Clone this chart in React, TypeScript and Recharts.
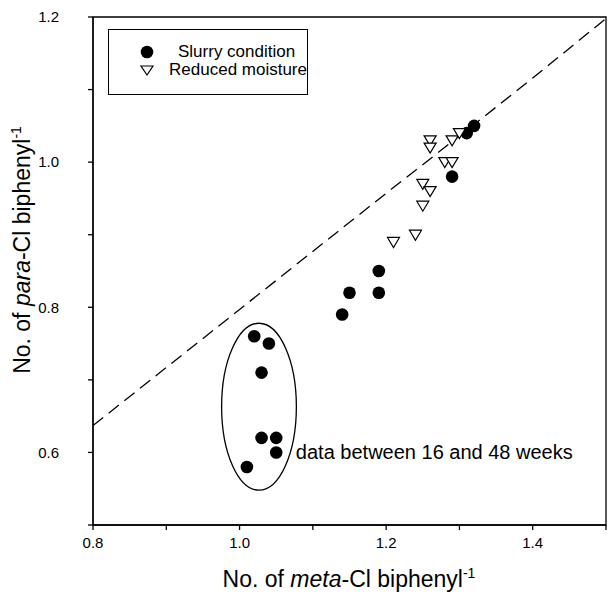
import {
  ComposedChart,
  Scatter,
  Line,
  XAxis,
  YAxis,
  Legend,
  ReferenceArea,
  ReferenceDot,
} from "recharts";

// Slurry condition (filled circles)
const slurryMeta = [1.32, 1.31, 1.29, 1.19, 1.19, 1.15, 1.14, 1.02, 1.04, 1.03, 1.03, 1.05, 1.05, 1.01];
const slurryPara = [1.05, 1.04, 0.98, 0.85, 0.82, 0.82, 0.79, 0.76, 0.75, 0.71, 0.62, 0.62, 0.6, 0.58];

// Reduced moisture (open down triangles)
const moistMeta = [1.26, 1.26, 1.29, 1.3, 1.28, 1.29, 1.25, 1.26, 1.25, 1.24, 1.21];
const moistPara = [1.03, 1.02, 1.03, 1.04, 1.0, 1.0, 0.97, 0.96, 0.94, 0.9, 0.89];

// dashed reference curve
const fitMeta = [0.8, 1.0, 1.2, 1.4, 1.5];
const fitPara = [0.637, 0.797, 0.957, 1.116, 1.198];

const xTicks = [0.8, 0.9, 1.0, 1.1, 1.2, 1.3, 1.4, 1.5];
const xTickLabels = ["0.8", "", "1.0", "", "1.2", "", "1.4", ""];
const yTicks = [0.5, 0.6, 0.7, 0.8, 0.9, 1.0, 1.1, 1.2];
const yTickLabels = ["", "0.6", "", "0.8", "", "1.0", "", "1.2"];

const seriesNames = ["Slurry condition", "Reduced moisture"];

// ellipse around the 16-48 week points, and its note
const ellipseMeta = [0.9755, 1.0775];
const ellipsePara = [0.548, 0.778];
const noteAt = { meta: 1.07, para: 0.6 };
const noteText = "data between 16 and 48 weeks";

const slurry = slurryMeta.map((m, i) => ({ meta: m, para: slurryPara[i] }));
const moist = moistMeta.map((m, i) => ({ meta: m, para: moistPara[i] }));
const fit = fitMeta.map((m, i) => ({ meta: m, para: fitPara[i] }));

const font = '"Liberation Sans", Arial, sans-serif';

const Dot = (p: any) => <circle cx={p.cx} cy={p.cy} r={6.3} fill="#000" />;
const Tri = (p: any) => (
  <path
    d={`M${p.cx - 6},${p.cy - 4.5} L${p.cx + 6},${p.cy - 4.5} L${p.cx},${p.cy + 5.5} Z`}
    fill="#fff"
    stroke="#000"
    strokeWidth={1.2}
  />
);

function LegendBox() {
  return (
    <div
      style={{
        border: "1.3px solid #000",
        width: 200,
        height: 66,
        boxSizing: "border-box",
        fontFamily: font,
        fontSize: 17,
        paddingTop: 13,
        whiteSpace: "nowrap",
      }}
    >
      {seriesNames.map((name, i) => (
        <div key={name} style={{ display: "flex", alignItems: "center", height: 18 }}>
          <svg width={69} height={18}>
            {i === 0 ? (
              <circle cx={38} cy={9} r={6.3} fill="#000" />
            ) : (
              <path d="M32,5 L44,5 L38,14 Z" fill="#fff" stroke="#000" strokeWidth={1.2} />
            )}
          </svg>
          <span>{name}</span>
        </div>
      ))}
    </div>
  );
}

export default function App() {
  return (
    <div style={{ position: "absolute", left: 0, top: 0 }}>
      <ComposedChart width={608} height={595} margin={{ top: 17, right: 2, left: 0, bottom: 30 }}>
        <XAxis
          dataKey="meta"
          type="number"
          domain={[0.8, 1.5]}
          ticks={xTicks}
          tickFormatter={(v: number, i: number) => xTickLabels[i]}
          tick={{ fill: "#000", fontSize: 15, fontFamily: font }}
          stroke="#000"
          strokeWidth={1.3}
          tickSize={5}
          tickMargin={7}
          height={40}
          allowDataOverflow
          label={{
            position: "bottom",
            content: () => (
              <text x={349} y={587} textAnchor="middle" fontFamily={font} fontSize={23} fill="#000">
                No. of <tspan fontStyle="italic">meta</tspan>-Cl biphenyl
                <tspan fontSize={14} dy={-9}>-1</tspan>
              </text>
            ),
          }}
        />
        <YAxis
          dataKey="para"
          type="number"
          domain={[0.5, 1.2]}
          ticks={yTicks}
          tickFormatter={(v: number, i: number) => yTickLabels[i]}
          tick={{ fill: "#000", fontSize: 15, fontFamily: font }}
          stroke="#000"
          strokeWidth={1.3}
          tickSize={5}
          tickMargin={29}
          width={93}
          allowDataOverflow
          label={{
            position: "left",
            content: () => (
              <text
                transform="translate(30,250) rotate(-90)"
                textAnchor="middle"
                fontFamily={font}
                fontSize={23}
                fill="#000"
              >
                No. of <tspan fontStyle="italic">para</tspan>-Cl biphenyl
                <tspan fontSize={14} dy={-9}>-1</tspan>
              </text>
            ),
          }}
        />
        <ReferenceArea x1={0.8} x2={1.5} y1={0.5} y2={1.2} fill="none" stroke="#000" strokeWidth={1.3} />
        <ReferenceArea
          x1={ellipseMeta[0]}
          x2={ellipseMeta[1]}
          y1={ellipsePara[0]}
          y2={ellipsePara[1]}
          shape={(p: any) => (
            <ellipse
              cx={p.x + p.width / 2}
              cy={p.y + p.height / 2}
              rx={Math.abs(p.width) / 2}
              ry={Math.abs(p.height) / 2}
              fill="none"
              stroke="#000"
              strokeWidth={1.3}
            />
          )}
        />
        <ReferenceDot
          x={noteAt.meta}
          y={noteAt.para}
          shape={(p: any) => (
            <text x={p.cx + 5} y={p.cy} dy="0.35em" fontFamily={font} fontSize={20} fill="#000">
              {noteText}
            </text>
          )}
        />
        <Line
          data={fit}
          dataKey="para"
          type="monotone"
          stroke="#000"
          strokeWidth={1.3}
          strokeDasharray="13 7"
          dot={false}
          legendType="none"
          isAnimationActive={false}
        />
        <Scatter name={seriesNames[0]} data={slurry} dataKey="para" shape={Dot} isAnimationActive={false} />
        <Scatter name={seriesNames[1]} data={moist} dataKey="para" shape={Tri} isAnimationActive={false} />
        <Legend
          layout="horizontal"
          verticalAlign="middle"
          content={<LegendBox />}
          wrapperStyle={{ position: "absolute", left: 108, top: 29, width: 200, height: 66 }}
        />
      </ComposedChart>
    </div>
  );
}
